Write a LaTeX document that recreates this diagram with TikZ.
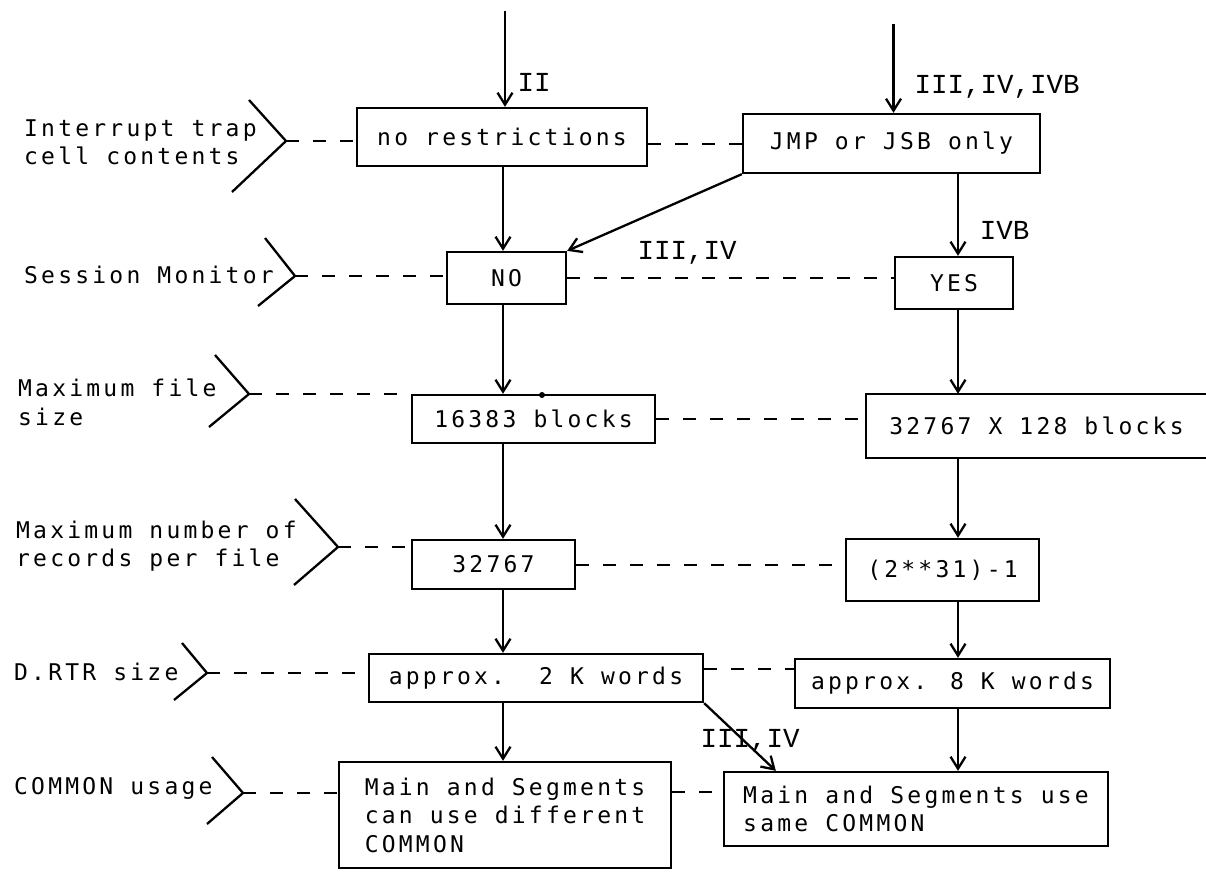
\documentclass[tikz,border=0pt]{standalone}
\usepackage{fontspec}
\newfontfamily\plotfont[LetterSpace=14]{DejaVu Sans Mono}
\newfontfamily\romfont{Liberation Mono}
\usetikzlibrary{arrows.meta}
\begin{document}
\begin{tikzpicture}[x=1pt,y=-1pt,line width=2.3pt,
  box/.style={draw,rectangle,inner sep=0pt,align=left,font=\plotfont\fontsize{23}{28.5}\selectfont},
  lab/.style={anchor=west,inner sep=0pt,align=left,font=\plotfont\fontsize{23}{28.5}\selectfont},
  rom/.style={inner sep=0pt,font=\romfont\fontsize{27.5}{30}\selectfont},
  arr/.style={-{Straight Barb[length=12pt,width=15pt]}},
  dsh/.style={line width=2pt,dash pattern=on 13pt off 14pt},
  chev/.style={line width=2.3pt}]
\useasboundingbox (0,0) rectangle (1206,872);
% columns
\coordinate (colL) at (503,0);
\coordinate (colR) at (958,0);
% boxes
\node[box,minimum width=290pt,minimum height=58pt] (nr) at (502,137) {no restrictions};
\node[box,minimum width=297pt,minimum height=59pt] (jmp) at (891.5,143.5) {JMP or JSB only};
\node[box,minimum width=119pt,minimum height=52pt] (no) at (506.5,278) {NO};
\node[box,minimum width=118pt,minimum height=52pt] (yes) at (954,283) {YES};
\node[box,minimum width=243pt,minimum height=48pt] (b16) at (533.5,419) {16383 blocks};
\node[box,draw=none,minimum width=339pt,minimum height=62pt] (b32) at (1036.5,426) {32767 X 128 blocks};
\draw (b32.north east) -- (b32.north west) -- (b32.south west) -- (b32.south east);
\node[box,minimum width=163pt,minimum height=49pt] (n32767) at (493.5,564.5) {32767};
\node[box,minimum width=193pt,minimum height=62pt] (n2p) at (942.5,570) {(2**31)-1};
\node[box,minimum width=334pt,minimum height=48pt] (k2) at (536,678) {approx.\ \ 2 K words};
\node[box,minimum width=315pt,minimum height=49pt] (k8) at (952.5,683.5) {approx. 8 K words};
\node[box,minimum width=332pt,minimum height=106pt] (cl) at (505,815) {Main and Segments\\can use different\\COMMON};
\node[box,minimum width=384pt,minimum height=74pt] (cr) at (916,809) {Main and Segments use\\same COMMON};
\fill (542,395) circle (3pt);
% left labels
\node[lab] (l1) at (23,142.5) {Interrupt trap\\cell contents};
\node[lab] (l2) at (23,275) {Session Monitor};
\node[lab] (l3) at (17,402.5) {Maximum file\\size};
\node[lab] (l4) at (15,546) {Maximum number of\\records per file};
\node[lab] (l5) at (13,672) {D.RTR size};
\node[lab] (l6) at (13,788) {COMMON usage};
% chevrons
\coordinate (t1) at (286,141);
\coordinate (t2) at (295,276);
\coordinate (t3) at (249,394);
\coordinate (t4) at (338,547);
\coordinate (t5) at (207,673);
\coordinate (t6) at (243,793);
\draw[chev] (249,100) -- (t1) -- (232,192);
\draw[chev] (265,238) -- (t2) -- (258,306);
\draw[chev] (215,355) -- (t3) -- (209,427);
\draw[chev] (295,499) -- (t4) -- (294,585);
\draw[chev] (182,643) -- (t5) -- (174,700);
\draw[chev] (212,757) -- (t6) -- (207,824);
% dashed leaders
\draw[dsh] (t1) -- (t1 -| nr.west);
\draw[dsh] (t2) -- (t2 -| no.west);
\draw[dsh] (t3) -- (t3 -| b16.west);
\draw[dsh] (t4) -- (t4 -| n32767.west);
\draw[dsh] (t5) -- (t5 -| k2.west);
\draw[dsh] (t6) -- (t6 -| cl.west);
\draw[dsh] (nr.east |- jmp.west) -- (jmp.west);
\draw[dsh] (no.east) -- (no.east -| yes.west);
\draw[dsh] (b16.east) -- (b16.east -| b32.west);
\draw[dsh] (n32767.east) -- (n32767.east -| n2p.west);
\coordinate (k8d) at ([yshift=15pt]k8.west);
\draw[dsh] (k8d -| k2.east) -- (k8d);
\coordinate (crd) at ([yshift=17pt]cr.west);
\draw[dsh] (crd -| cl.east) -- (crd);
% entry arrows
\coordinate (in1) at (505,11);
\coordinate (in2) at (893.5,24);
\draw[arr] (in1) -- (in1 |- nr.north);
\draw[arr] (in2) -- (in2 |- jmp.north);
\node[rom] (r1) at (534,82) {II};
\node[rom] (r2) at (997,87) {III,IV,IVB};
% left column
\draw[arr] (colL |- nr.south) -- (colL |- no.north);
\draw[arr] (colL |- no.south) -- (colL |- b16.north);
\draw[arr] (colL |- b16.south) -- (colL |- n32767.north);
\draw[arr] (colL |- n32767.south) -- (colL |- k2.north);
\draw[arr] (colL |- k2.south) -- (colL |- cl.north);
% right column
\draw[arr] (colR |- jmp.south) -- (colR |- yes.north);
\draw[arr] (colR |- yes.south) -- (colR |- b32.north);
\draw[arr] (colR |- b32.south) -- (colR |- n2p.north);
\draw[arr] (colR |- n2p.south) -- (colR |- k8.north);
\draw[arr] (colR |- k8.south) -- (colR |- cr.north);
\node[rom] (r3) at (1004.5,230) {IVB};
% diagonals
\draw[arr] (jmp.south west) -- (no.north east);
\node[rom] (r4) at (687,253) {III,IV};
\draw[arr] (k2.south east) -- ([xshift=53pt]cr.north west);
\node[rom] (r5) at (750,741) {III,IV};
\end{tikzpicture}
\end{document}
